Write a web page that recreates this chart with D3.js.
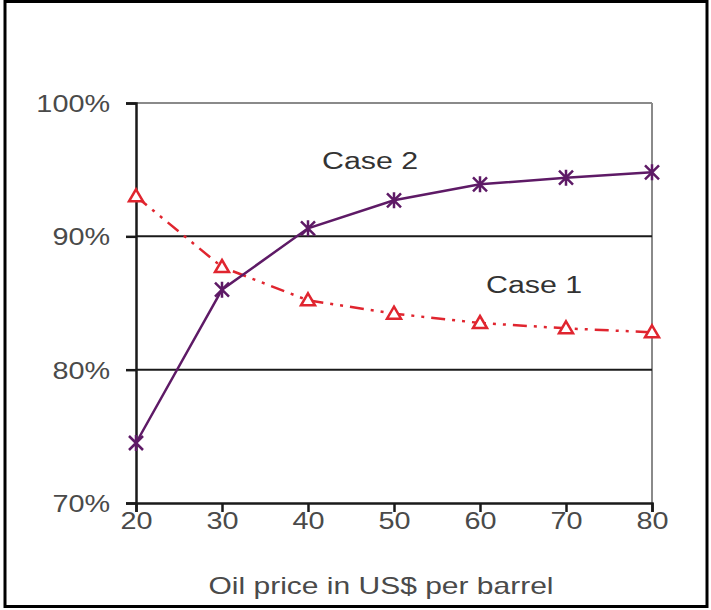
<!DOCTYPE html>
<html>
<head>
<meta charset="utf-8">
<script src="https://cdn.jsdelivr.net/npm/d3@7"></script>
<style>
  html, body { margin: 0; padding: 0; background: #fff; }
  svg { display: block; }
  text { font-family: "Liberation Sans", Arial, sans-serif; }
</style>
</head>
<body>
<svg id="chart" width="711" height="610"></svg>
<script>
const prices = [20, 30, 40, 50, 60, 70, 80];
const case1 = [93.0, 87.7, 85.2, 84.2, 83.5, 83.1, 82.8];
const case2 = [74.5, 86.0, 90.6, 92.7, 93.9, 94.4, 94.8];
const yTicks = [70, 80, 90, 100];
const xTicks = [20, 30, 40, 50, 60, 70, 80];
const seriesNames = ["Case 1", "Case 2"];
const xTitle = "Oil price in US$ per barrel";

const svg = d3.select("#chart");
const SX = 1.2; // horizontal text stretch seen in the reference

// outer frame
svg.append("rect").attr("x", 5).attr("y", 1.5).attr("width", 702).attr("height", 605)
  .attr("fill", "none").attr("stroke", "#000").attr("stroke-width", 3);

const x = d3.scaleLinear().domain([20, 80]).range([136, 652]);
const y = d3.scaleLinear().domain([70, 100]).range([503, 103]);

// plot border top/right (gray)
svg.append("line").attr("x1", x(20)).attr("x2", x(80)).attr("y1", y(100)).attr("y2", y(100))
  .attr("stroke", "#8a8a8a").attr("stroke-width", 2);
svg.append("line").attr("x1", x(80)).attr("x2", x(80)).attr("y1", y(100)).attr("y2", y(70))
  .attr("stroke", "#8a8a8a").attr("stroke-width", 2);

// gridlines
svg.append("g").selectAll("line").data([80, 90]).join("line")
  .attr("x1", x(20)).attr("x2", x(80)).attr("y1", d => y(d)).attr("y2", d => y(d))
  .attr("stroke", "#1a1a1a").attr("stroke-width", 2);

// y axis
const yAxis = svg.append("g").attr("transform", `translate(${x(20)},0)`)
  .call(d3.axisLeft(y).tickValues(yTicks).tickSize(10).tickPadding(16).tickFormat(d => d + "%"));
// x axis
const xAxis = svg.append("g").attr("transform", `translate(0,${y(70)})`)
  .call(d3.axisBottom(x).tickValues(xTicks).tickSize(9).tickPadding(0).tickFormat(d3.format("d")));

[yAxis, xAxis].forEach(a => {
  a.select(".domain").attr("stroke", "#1a1a1a").attr("stroke-width", 2.5);
  a.selectAll(".tick line").attr("stroke", "#1a1a1a").attr("stroke-width", 2.5);
  a.selectAll(".tick text").attr("fill", "#4a4a4a").attr("font-size", 24)
    .style("font-family", "'Liberation Sans', Arial, sans-serif")
    .attr("transform", `scale(${SX},1)`);
});
yAxis.selectAll(".tick text").attr("dy", "0.36em").attr("x", -26 / SX);

// x title
svg.append("text").attr("transform", `translate(${381},${594}) scale(1.25,1)`)
  .attr("text-anchor", "middle")
  .attr("font-size", 24).attr("fill", "#4a4a4a").text(xTitle);

const line = d3.line().x((d, i) => x(prices[i])).y(d => y(d));

// Case 1 series
const red = "#e0252f";
svg.append("path").datum(case1).attr("d", line).attr("fill", "none")
  .attr("stroke", red).attr("stroke-width", 2.5)
  .attr("stroke-dasharray", "14,7,3,7,3,7");
svg.append("g").selectAll("path").data(case1).join("path")
  .attr("transform", (d, i) => `translate(${x(prices[i])},${y(d)})`)
  .attr("d", "M0,-7 L7,5 L-7,5 Z")
  .attr("fill", "#fff").attr("stroke", red).attr("stroke-width", 2.5);

// Case 2 series
const purple = "#5e1a66";
svg.append("path").datum(case2).attr("d", line).attr("fill", "none")
  .attr("stroke", purple).attr("stroke-width", 2.5);
svg.append("g").selectAll("path").data(case2).join("path")
  .attr("transform", (d, i) => `translate(${x(prices[i])},${y(d)})`)
  .attr("d", "M-7,-7 L7,7 M-7,7 L7,-7 M0,-8 L0,8")
  .attr("fill", "none").attr("stroke", purple).attr("stroke-width", 2.5);

// series labels
svg.append("text").attr("transform", "translate(322,169) scale(1.24,1)")
  .attr("font-size", 24.5).attr("fill", "#333").text(seriesNames[1]);
svg.append("text").attr("transform", "translate(486,293) scale(1.24,1)")
  .attr("font-size", 24.5).attr("fill", "#333").text(seriesNames[0]);
</script>
</body>
</html>
